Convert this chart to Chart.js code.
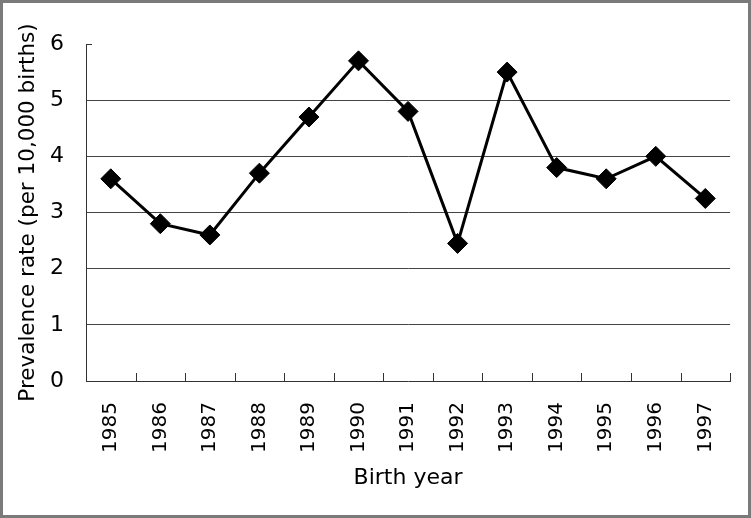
<!DOCTYPE html>
<html>
<head>
<meta charset="utf-8">
<script src="https://cdn.jsdelivr.net/npm/chart.js@4/dist/chart.umd.min.js"></script>
<style>
    html, body { margin: 0; padding: 0; background: #fff; }
    #wrap { position: relative; width: 751px; height: 518px; }
    #frame { position: absolute; left: 0; top: 0; width: 751px; height: 518px; box-sizing: border-box; border: 3px solid #7a7a7a; pointer-events: none; }
</style>
</head>
<body>
<div id="wrap">
    <canvas id="prevChart" width="751" height="518"></canvas>
    <div id="frame"></div>
</div>
<script>
const years = ['1985', '1986', '1987', '1988', '1989', '1990', '1991', '1992', '1993', '1994', '1995', '1996', '1997'];
const rates = [3.6, 2.8, 2.6, 3.7, 4.7, 5.7, 4.8, 2.45, 5.5, 3.8, 3.6, 4.0, 3.25];
const yTicks = [0, 1, 2, 3, 4, 5, 6];

const FONT = "'DejaVu Sans', sans-serif";

// short inward tick marks on both axes
const innerTicks = {
    id: 'innerTicks',
    afterDatasetsDraw(chart) {
        const { ctx, chartArea, scales: { x, y } } = chart;
        ctx.save();
        ctx.strokeStyle = '#333';
        ctx.lineWidth = 1;
        ctx.beginPath();
        for (let i = 1; i <= years.length; i++) {
            const px = Math.round(x.getPixelForValue(i - 0.5)) + 0.5;
            ctx.moveTo(px, chartArea.bottom);
            ctx.lineTo(px, chartArea.bottom - 8);
        }
        const py = Math.round(y.getPixelForValue(6)) + 0.5;
        ctx.moveTo(chartArea.left, py);
        ctx.lineTo(chartArea.left + 6, py);
        ctx.stroke();
        ctx.restore();
    }
};

const ctx = document.getElementById('prevChart').getContext('2d');
new Chart(ctx, {
    type: 'line',
    data: {
        labels: years,
        datasets: [{
            data: rates,
            borderColor: '#000',
            backgroundColor: '#000',
            borderWidth: 3,
            tension: 0,
            pointStyle: 'rectRot',
            pointRadius: 10,
            pointHoverRadius: 10,
            pointBackgroundColor: '#000',
            pointBorderColor: '#000',
            pointBorderWidth: 1
        }]
    },
    options: {
        responsive: false,
        animation: false,
        layout: { padding: { left: 0, top: 44, right: 18, bottom: 0 } },
        plugins: { legend: { display: false }, tooltip: { enabled: false } },
        scales: {
            x: {
                offset: true,
                grid: { display: false, drawTicks: false },
                border: { display: true, color: '#333', width: 1 },
                ticks: {
                    color: '#000',
                    font: { family: FONT, size: 20 },
                    minRotation: 90,
                    maxRotation: 90,
                    padding: 21,
                    autoSkip: false
                },
                title: {
                    display: true,
                    text: 'Birth year',
                    color: '#000',
                    font: { family: FONT, size: 22 },
                    padding: { top: 0, bottom: 27 }
                },
                afterFit(scale) { scale.height = 137; }
            },
            y: {
                min: 0,
                max: 6,
                afterBuildTicks(scale) { scale.ticks = yTicks.map(v => ({ value: v })); },
                grid: {
                    drawTicks: false,
                    color: c => (c.tick && (c.tick.value === 6 || c.tick.value === 0)) ? 'rgba(0,0,0,0)' : '#444',
                    lineWidth: 1
                },
                border: { display: true, color: '#333', width: 1 },
                ticks: {
                    color: '#000',
                    font: { family: FONT, size: 22 },
                    padding: 22
                },
                title: {
                    display: true,
                    text: 'Prevalence rate (per 10,000 births)',
                    color: '#000',
                    font: { family: FONT, size: 21.5 },
                    padding: { top: 16, bottom: 0 }
                },
                afterFit(scale) { scale.width = 86; }
            }
        }
    },
    plugins: [innerTicks]
});
</script>
</body>
</html>
